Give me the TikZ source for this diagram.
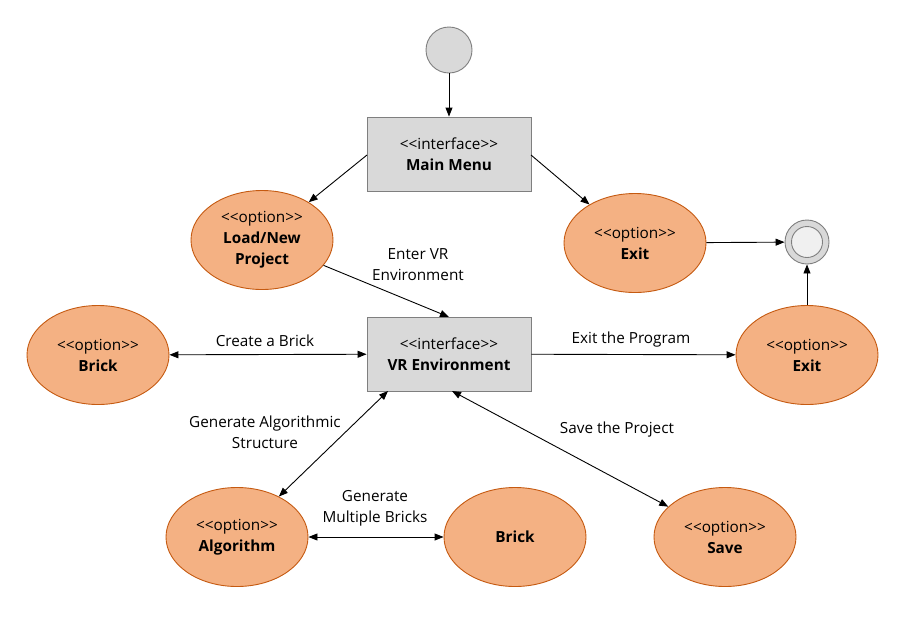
\documentclass[tikz,border=0pt]{standalone}
\usepackage{fontspec}
\setmainfont{Open Sans}[Ligatures=TeXOff]
\usetikzlibrary{shapes.geometric,arrows.meta}
\definecolor{opfill}{HTML}{F4B183}
\definecolor{opdraw}{HTML}{C55A11}
\definecolor{ifill}{HTML}{D9D9D9}
\definecolor{idraw}{HTML}{7F7F7F}
\tikzset{
  opt/.style={ellipse,draw=opdraw,fill=opfill,line width=0.9pt,minimum width=142pt,minimum height=99pt,inner sep=0pt,align=center,font=\fontsize{15.3}{21}\selectfont},
  iface/.style={rectangle,draw=idraw,fill=ifill,line width=0.9pt,minimum width=164pt,minimum height=74pt,inner sep=0pt,align=center,font=\fontsize{15.3}{21}\selectfont},
  lbl/.style={align=center,font=\fontsize{15.3}{21}\selectfont,inner sep=0pt},
  conn/.style={line width=0.9pt,-{Triangle[length=9pt,width=7pt]}},
  bconn/.style={line width=0.9pt,{Triangle[length=9pt,width=7pt]}-{Triangle[length=9pt,width=7pt]}},
}
\begin{document}
\begin{tikzpicture}[x=1pt,y=-1pt]
\useasboundingbox (0,0) rectangle (903,641);
% start / end
\node[circle,draw=idraw,fill=ifill,line width=0.9pt,minimum size=46pt,inner sep=0pt] (start) at (449,50) {};
\node[circle,draw=idraw,fill=ifill,line width=0.9pt,minimum size=44pt,inner sep=0pt] (end) at (807,242) {};
\node[circle,draw=idraw,fill=black!6,line width=0.9pt,minimum size=31pt,inner sep=0pt] (endin) at (807,242) {};
% interfaces
\node[iface] (mm) at (449,154) {<<interface>>\\\textbf{Main Menu}};
\node[iface] (vr) at (449,354) {<<interface>>\\\textbf{VR Environment}};
% options
\node[opt] (load) at (262,240) {<<option>>\\\textbf{Load/New}\\\textbf{Project}};
\node[opt] (exit1) at (635,243) {<<option>>\\\textbf{Exit}};
\node[opt] (brick1) at (98,355) {<<option>>\\\textbf{Brick}};
\node[opt] (exit2) at (807,355) {<<option>>\\\textbf{Exit}};
\node[opt] (alg) at (237,537) {<<option>>\\\textbf{Algorithm}};
\node[opt] (brick2) at (515,537) {\textbf{Brick}};
\node[opt] (save) at (725,537) {<<option>>\\\textbf{Save}};
% connectors
\draw[conn] (start) -- (mm);
\coordinate (mmL) at (367,155);
\coordinate (mmR) at (531,155);
\draw[conn] (mmL) -- (load);
\draw[conn] (mmR) -- (exit1);
\draw[conn] (exit1) -- (end);
\draw[conn] (exit2) -- (end);
\coordinate (vrT) at (449,317);
\draw[conn] (load) -- (vrT);
\draw[bconn] (brick1) -- (vr);
\draw[conn] (vr) -- (exit2);
\coordinate (vrB1) at (388,391);
\coordinate (vrB2) at (452,391);
\draw[bconn] (vrB1) -- (alg);
\draw[bconn] (vrB2) -- (save);
\draw[bconn] (alg) -- (brick2);
% labels
\node[lbl] (l1) at (418,265) {Enter VR\\Environment};
\node[lbl] (l2) at (265,341) {Create a Brick};
\node[lbl] (l3) at (631,340) {Exit the Program};
\node[lbl] (l4) at (265,432) {Generate Algorithmic\\Structure};
\node[lbl] (l5) at (375,508) {Generate\\Multiple Bricks};
\node[lbl] (l6) at (617,430) {Save the Project};
\end{tikzpicture}
\end{document}
